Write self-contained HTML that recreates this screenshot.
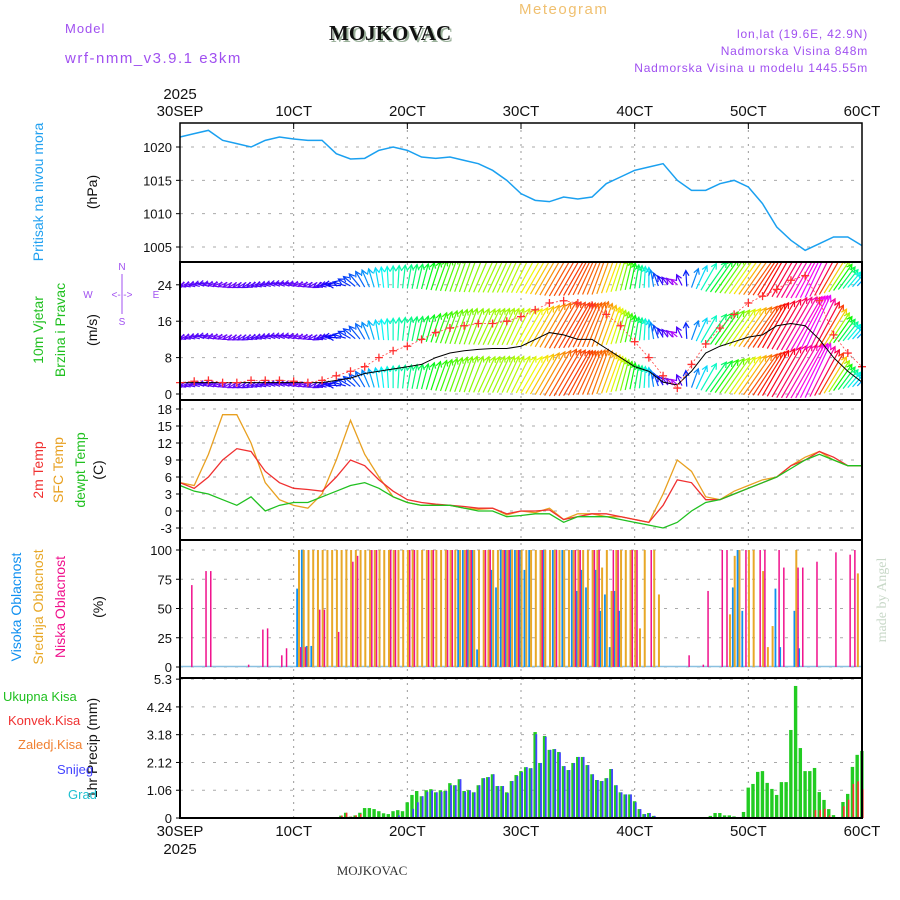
<!DOCTYPE html>
<html><head><meta charset="utf-8"><style>
html,body{margin:0;padding:0;background:#fff;}
svg{display:block;font-family:"Liberation Sans",sans-serif;}
</style></head><body>
<svg id="chart" width="900" height="900" viewBox="0 0 900 900" xmlns="http://www.w3.org/2000/svg">
<defs><clipPath id="windClip"><rect x="180" y="262" width="682" height="138"/></clipPath></defs>
<text x="65" y="33" font-size="13" fill="#a050f0" letter-spacing="1">Model</text>
<text x="65" y="63" font-size="15" fill="#a050f0" letter-spacing="1.5">wrf-nmm_v3.9.1 e3km</text>
<text x="331" y="42" font-size="21" font-weight="bold" font-family="Liberation Serif,serif" fill="#9ab09a">MOJKOVAC</text>
<text x="329" y="40" font-size="21" font-weight="bold" font-family="Liberation Serif,serif" fill="#111">MOJKOVAC</text>
<text x="519" y="14" font-size="15" fill="#f0c070" letter-spacing="1.5">Meteogram</text>
<g font-size="12" fill="#a050f0" text-anchor="end" letter-spacing="0.8">
<text x="868" y="38">lon,lat (19.6E, 42.9N)</text>
<text x="868" y="55">Nadmorska Visina 848m</text>
<text x="868" y="72">Nadmorska Visina u modelu 1445.55m</text>
</g>
<text x="180" y="99" font-size="15" text-anchor="middle" fill="#111">2025</text>
<text x="180" y="854" font-size="15" text-anchor="middle" fill="#111">2025</text>
<text x="372" y="875" font-size="13" font-family="Liberation Serif,serif" text-anchor="middle" fill="#333">MOJKOVAC</text>
<text transform="translate(886,600) rotate(-90)" font-size="14" font-family="Liberation Serif,serif" text-anchor="middle" fill="#c8d8c8">made by Angel</text>
<g font-size="14" text-anchor="middle">
<text transform="translate(43,192) rotate(-90)" fill="#20a0f0">Pritisak na nivou mora</text>
<text transform="translate(97,192) rotate(-90)" fill="#111">(hPa)</text>
<text transform="translate(43,330) rotate(-90)" fill="#20c020">10m Vjetar</text>
<text transform="translate(65,330) rotate(-90)" fill="#20c020">Brzina i Pravac</text>
<text transform="translate(97,330) rotate(-90)" fill="#111">(m/s)</text>
<text transform="translate(43,470) rotate(-90)" fill="#f03030">2m Temp</text>
<text transform="translate(63,470) rotate(-90)" fill="#e8a020">SFC Temp</text>
<text transform="translate(85,470) rotate(-90)" fill="#20c020">dewpt Temp</text>
<text transform="translate(103,470) rotate(-90)" fill="#111">(C)</text>
<text transform="translate(21,607) rotate(-90)" fill="#1090f0">Visoka Oblacnost</text>
<text transform="translate(43,607) rotate(-90)" fill="#e8a828">Srednja Oblacnost</text>
<text transform="translate(65,607) rotate(-90)" fill="#f0108c">Niska Oblacnost</text>
<text transform="translate(103,607) rotate(-90)" fill="#111">(%)</text>
<text transform="translate(97,748) rotate(-90)" fill="#111">1hr Precip (mm)</text>
</g>
<g font-size="13">
<text x="3" y="701" fill="#20c020">Ukupna Kisa</text>
<text x="8" y="725" fill="#f03030">Konvek.Kisa</text>
<text x="18" y="749" fill="#f08030">Zaledj.Kisa</text>
<text x="57" y="774" fill="#4444ff">Snijeg</text>
<text x="68" y="799" fill="#20c0d0">Grad</text>
</g>
<g font-size="10" fill="#a050f0" text-anchor="middle">
<text x="122" y="270">N</text><text x="122" y="325">S</text>
<text x="88" y="298">W</text><text x="156" y="298">E</text>
<text x="122" y="298">&lt;-|-&gt;</text>
<line x1="122" y1="274" x2="122" y2="314" stroke="#a050f0" stroke-width="1"/>
</g>
<g id="grid"></g><g id="marks"></g><g id="axes"></g>
</svg>
<script>
const hours = 144;
const dayLabels = ["30SEP","1OCT","2OCT","3OCT","4OCT","5OCT","6OCT"];
const pressTicks = [1020,1015,1010,1005];
const windTicks = [0,8,16,24];
const tempTicks = [18,15,12,9,6,3,0,-3];
const cloudTicks = [0,25,50,75,100];
const precipTicks = ["0","1.06","2.12","3.18","4.24","5.3"];
// 3-hourly series (49 values)
const pressure = [1021.5,1022,1022.5,1021,1020.5,1020,1021,1021.5,1021.2,1021,1021,1019,1018.2,1018.3,1019.5,1020,1019.5,1018.5,1018.3,1018.5,1018,1017.5,1016.5,1015,1013,1012,1011.8,1012.5,1012.2,1012.5,1014.5,1015.5,1016.5,1017,1017.5,1015,1013.5,1013.5,1014.5,1015,1014,1011.5,1008,1006,1004.5,1005.5,1006.5,1006.5,1005.2];
const temp2m = [5,4,6,9,11,10.5,7,5,4,3.8,3.5,6,9,8,5.5,3.5,2,1.5,1.2,1,0.8,0.5,0.5,-0.5,0,0,0.2,-1.5,-1,-0.5,-0.5,-1,-1.5,-2,1,5.5,5,2,2,3,4,5,6,8,9,10.5,9.5,8,8];
const tempSfc = [5,4.5,10,17,17,12,5,2,1,0.5,3,9,16,10,6,2.5,1.5,1,1,1,0.5,0.3,0.5,-0.7,0,-0.3,0.5,-1.5,-0.5,-0.5,-1,-1,-1.5,-2,3,9,7,2.5,2,3.5,4.5,5.5,6,8,9.5,10.5,9,8,8];
const dewpt = [4.5,3.5,3,2,1,2.5,0,1,1.5,1.5,2.5,3.5,4.5,5,4,2.5,1.5,1,1,1,0.5,0,0,-1,-0.8,-0.5,-0.5,-2,-1,-1,-1,-1.5,-2,-2.5,-3,-2,0,1.5,2,3,4,5,6,7.5,9,10,9,8,8];
const windSpeed = [2.5,2.5,2.5,2.5,2.5,2.5,2.5,2.5,2.5,2.5,2.5,3,3.5,4.5,5,5.5,6,6.5,8,9,9.5,9.8,10,10,10.5,12,13.5,13,12,12,10,8,6,5,2.6,2,5,9,10.5,11.5,12.5,13,15,15.5,15,12,8,5,2.6];
const windGust = [2.5,2.8,3,2.5,2.5,3,3,3,2.8,2.5,3,4,5,6,8,9.5,10.5,12,13.5,14.5,15,15.5,15.5,16,17,18.5,20,20.5,20,19.5,17.5,15,11.5,8,4,1.3,6.5,11,14.5,17.5,20,21.5,23,25,26,20.5,13,9,6];
const windDir = [60,70,80,70,60,60,70,80,80,70,60,80,120,150,170,180,190,195,200,200,200,205,205,205,210,210,210,210,205,200,200,195,190,180,150,130,200,215,215,215,215,210,210,210,205,210,215,220,225];
// hourly cloud (145 values) for mid; sparse hour/value lists for low & high
const midCloud = [0,0,0,0,0,0,0,0,0,0,0,0,0,0,0,0,0,0,0,0,0,0,0,0,0,
100,100,100,100,100,100,100,100,100,100,100,100,100,100,100,100,100,100,100,100,100,100,100,100,100,100,100,100,100,100,100,100,100,100,100,100,100,100,100,100,100,100,100,100,100,100,100,100,100,100,100,100,100,100,100,100,100,100,100,100,100,100,100,100,
85,100,65,100,100,100,100,100,33,100,0,100,62,
0,0,0,0,0,0,0,0,0,0,0,0,0,0,
45,95,100,0,100,100,0,82,17,35,0,0,0,0,100,0,0,0,0,0,0,0,0,0,0,0,0,80,0];
const lowHours = [2,5,6,14,17,18,21,22,25,26,29,30,33,36,37,40,41,44,45,48,49,52,53,56,57,60,61,64,65,68,69,71,76,79,83,84,87,88,91,92,95,96,99,107,110,111,114,115,119,122,123,126,127,130,131,134,138,141,142];
const lowVals = [70,82,82,2,32,33,10,16,17,17,49,49,30,90,95,100,100,100,100,100,100,100,100,100,100,100,100,100,100,100,100,100,100,100,100,100,100,100,100,100,100,100,100,10,2,65,100,100,100,100,100,100,85,85,85,90,98,96,100];
const highHours = [25,26,27,28,59,60,61,62,63,66,67,68,69,70,71,72,73,74,77,79,81,83,84,85,86,88,89,90,91,92,93,117,118,119,126,127,130,131];
const highVals = [67,100,18,18,100,100,100,100,15,83,68,100,100,100,100,100,83,100,100,100,100,100,65,83,68,83,48,62,17,65,48,68,100,48,67,17,48,16];
// hourly precipitation (145 values)
const precipTotal = [0,0,0,0,0,0,0,0,0,0,0,0,0,0,0,0,0,0,0,0,0,0,0,0,0,0,0,0,0,0,0,0,0,0,
0.09,0.2,0.05,0.1,0.2,0.38,0.38,0.34,0.26,0.18,0.15,0.26,0.3,0.26,0.6,0.88,1.03,0.83,1.06,1.1,0.98,1.06,1.03,1.33,1.25,1.48,1.03,1.06,0.98,1.25,1.52,1.56,1.67,1.22,1.22,0.98,1.41,1.64,1.79,1.94,1.9,3.28,2.1,3.13,2.6,2.63,2.52,1.98,1.83,2.1,2.33,2.33,2.02,1.67,1.45,1.41,1.52,1.87,1.25,0.98,0.9,0.9,0.64,0.34,0.15,0.19,0.08,
0,0,0,0,0,0,0,0,0,0,0,0.08,0.19,0.19,0.1,0.1,0.06,0,0.23,1.16,1.3,1.76,1.79,1.34,1.11,0.88,1.37,1.37,3.36,5.04,2.67,1.79,1.79,1.91,0.99,0.69,0.34,0.11,0,0.61,0.92,1.95,2.41,2.56];
const precipSnow = [0,0,0,0,0,0,0,0,0,0,0,0,0,0,0,0,0,0,0,0,0,0,0,0,0,0,0,0,0,0,0,0,0,0,
0,0,0,0,0,0,0,0,0,0,0,0,0.1,0,0,0.35,0.6,0.83,1.0,1.05,0.98,1.0,1.03,1.25,1.25,1.48,1.0,1.06,0.98,1.25,1.52,1.56,1.67,1.22,1.22,0.95,1.41,1.6,1.75,1.94,1.9,3.2,2.1,3.1,2.6,2.63,2.5,1.98,1.83,2.1,2.33,2.33,2.02,1.67,1.45,1.41,1.52,1.87,1.25,0.98,0.9,0.9,0.6,0.34,0.15,0.19,0.08,
0,0,0,0,0,0,0,0,0,0,0,0,0,0,0,0,0,0,0,0,0,0,0,0,0,0,0,0,0,0,0,0,0,0,0,0,0,0,0,0,0,0,0,0];
const precipConv = [0,0,0,0,0,0,0,0,0,0,0,0,0,0,0,0,0,0,0,0,0,0,0,0,0,0,0,0,0,0,0,0,0,0,
0.09,0.2,0.05,0.1,0.15,0,0,0,0,0,0,0,0,0,0,0,0,0,0,0,0,0,0,0,0,0,0,0,0,0,0,0,0,0,0,0,0,0,0,0,0,0,0,0,0,0,0,0,0,0,0,0,0,0,0,0,0,0,0,0,0,0,0,0,0,0,0,
0,0,0,0,0,0,0,0,0,0,0,0,0,0,0,0,0,0,0,0,0,0,0,0,0,0,0,0,0,0,0,0,0,0.3,0.3,0.35,0.1,0,0,0.45,0.7,1.3,1.4,1.1];

const NS="http://www.w3.org/2000/svg";
const X0=180, X1=862;
function xH(h){return X0+h*(X1-X0)/hours;}
function x3(i){return xH(i*3);}
function yP(p){return 147+(1020-p)*100/15;}
function yW(s){return 394-s*4.55;}
function yT(t){return 511-t*119/21;}
function yC(c){return 667-c*1.17;}
function yR(r){return 818-r*26.2;}
const panels=[{t:123,b:262},{t:262,b:400},{t:400,b:540},{t:540,b:678},{t:678,b:818}];
function mk(tag,attrs,parent){const e=document.createElementNS(NS,tag);for(const k in attrs)e.setAttribute(k,attrs[k]);parent.appendChild(e);return e;}
const grid=document.getElementById('grid'),marks=document.getElementById('marks'),axes=document.getElementById('axes');

for(let d=1;d<6;d++){
  const gl=mk('line',{x1:xH(d*24),x2:xH(d*24),y1:123,y2:818,stroke:'#999','stroke-width':1,'stroke-dasharray':'2,5'},grid);
  
  
}
function hgrid(vals,fn){vals.forEach(v=>{
  const gl=mk('line',{x1:X0,x2:X1,y1:fn(v),y2:fn(v),stroke:'#aaa','stroke-width':1,'stroke-dasharray':'3,8'},grid);
  
  
});}
hgrid(pressTicks,yP);hgrid(windTicks,yW);hgrid(tempTicks,yT);hgrid(cloudTicks,yC);hgrid(precipTicks.map(Number),yR);

let pts=pressure.map((p,i)=>x3(i)+','+yP(p)).join(' ');
let pl=mk('polyline',{points:pts,fill:'none',stroke:'#1aa0f0','stroke-width':1.5},marks);



function interp(arr,h){const f=h/3,i=Math.floor(f),r=f-i;if(i>=arr.length-1)return arr[arr.length-1];return arr[i]*(1-r)+arr[i+1]*r;}
function hue(s){let h=300-s*14;if(h<0)h+=360;return h;}
const wg=mk('g',{'clip-path':'url(#windClip)'},marks);


const bases=[2.5,13,24.5];
for(let h=0;h<=hours;h++){
  const s=interp(windSpeed,h),g=interp(windGust,h),d=interp(windDir,h);
  const a=(d+180)*Math.PI/180,L=Math.max(6,s*4);
  const dx=Math.sin(a)*L,dy=-Math.cos(a)*L;
  const col='hsl('+hue(g)+',95%,50%)';
  bases.forEach(b=>{
    const x=xH(h),y=yW(b)+ (dy<0? L*0.25:0);
    const ar=mk('line',{x1:x,y1:y,x2:x+dx,y2:y+dy,stroke:col,'stroke-width':1.2},wg);
    
    
    const ang=Math.atan2(dy,dx);
    const hx=x+dx,hy=y+dy;
    const hd=mk('path',{d:`M${hx-6*Math.cos(ang-0.5)},${hy-6*Math.sin(ang-0.5)}L${hx},${hy}L${hx-6*Math.cos(ang+0.5)},${hy-6*Math.sin(ang+0.5)}`,fill:'none',stroke:col,'stroke-width':1.2},wg);
    
    
  });
}
pl=mk('polyline',{points:windSpeed.map((s,i)=>x3(i)+','+yW(s)).join(' '),fill:'none',stroke:'#000','stroke-width':1},marks);


pl=mk('polyline',{points:windGust.map((s,i)=>x3(i)+','+yW(s)).join(' '),fill:'none',stroke:'#ff4040','stroke-width':0.8,'stroke-dasharray':'2,2'},marks);


windGust.forEach((s,i)=>{
  const x=x3(i),y=yW(s);
  const p=mk('path',{d:`M${x-4},${y}H${x+4}M${x},${y-4}V${y+4}`,stroke:'#ff3030','stroke-width':1.3},marks);
  
  
});

[[tempSfc,'#e8a020','temp-sfc-line'],[temp2m,'#f03030','temp-2m-line'],[dewpt,'#20c020','dewpt-line']].forEach(([arr,c,n])=>{
  const l=mk('polyline',{points:arr.map((t,i)=>x3(i)+','+yT(t)).join(' '),fill:'none',stroke:c,'stroke-width':1.3},marks);
  
  
});

let bl=mk('line',{x1:X0,x2:X1,y1:666.5,y2:666.5,stroke:'#8ac0e0','stroke-width':1.5},marks);


highHours.forEach((h,i)=>{const v=highVals[i];
  const r=mk('rect',{x:xH(h)-2.2,y:yC(v),width:1.8,height:yC(0)-yC(v),fill:'#1090f0'},marks);
  
  });
midCloud.forEach((v,h)=>{if(!v)return;
  const r=mk('rect',{x:xH(h)-0.4,y:yC(v),width:2,height:yC(0)-yC(v),fill:'#e8a828'},marks);
  
  });
lowHours.forEach((h,i)=>{const v=lowVals[i];
  const r=mk('rect',{x:xH(h)+1.6,y:yC(v),width:1.5,height:yC(0)-yC(v),fill:'#f0108c'},marks);
  
  });

precipTotal.forEach((v,h)=>{if(!v)return;
  const r=mk('rect',{x:xH(h)-1.8,y:yR(v),width:3.4,height:yR(0)-yR(v),fill:'#22cc22'},marks);
  
  });
precipSnow.forEach((v,h)=>{if(!v)return;
  const r=mk('rect',{x:xH(h)+0.2,y:yR(v),width:1.8,height:yR(0)-yR(v),fill:'#4444ff'},marks);
  
  });
precipConv.forEach((v,h)=>{if(!v)return;
  const r=mk('rect',{x:xH(h),y:yR(v),width:1.6,height:yR(0)-yR(v),fill:'#ff3030'},marks);
  
  });

panels.forEach((p,i)=>{
  const r=mk('rect',{x:X0,y:p.t,width:X1-X0,height:p.b-p.t,fill:'none',stroke:'#000','stroke-width':i==0?1.5:2},axes);
  
  
});
function yLabels(vals,fn,labels){vals.forEach((v,i)=>{
  const t=mk('text',{x:172,y:fn(v)+5,'font-size':13,'text-anchor':'end',fill:'#111'},axes);
  t.textContent=labels?labels[i]:String(v);
  
  
  const tk=mk('line',{x1:X0-4,x2:X0,y1:fn(v),y2:fn(v),stroke:'#000'},axes);
  
  
});}
yLabels(pressTicks,yP);yLabels(windTicks,yW);yLabels(tempTicks,yT);yLabels(cloudTicks,yC);
yLabels(precipTicks.map(Number),yR,precipTicks);
dayLabels.forEach((l,d)=>{
  const x=xH(d*24);
  [[116,'top-day-label'],[836,'bottom-day-label']].forEach(([y,n])=>{
    const t=mk('text',{x:x,y:y,'font-size':15,'text-anchor':'middle',fill:'#111'},axes);
    t.textContent=l.replace('OCT','0CT');
    
    
  });
  const tk=mk('line',{x1:x,x2:x,y1:123,y2:129,stroke:'#000'},axes);
  
  
});
</script>
</body></html>
